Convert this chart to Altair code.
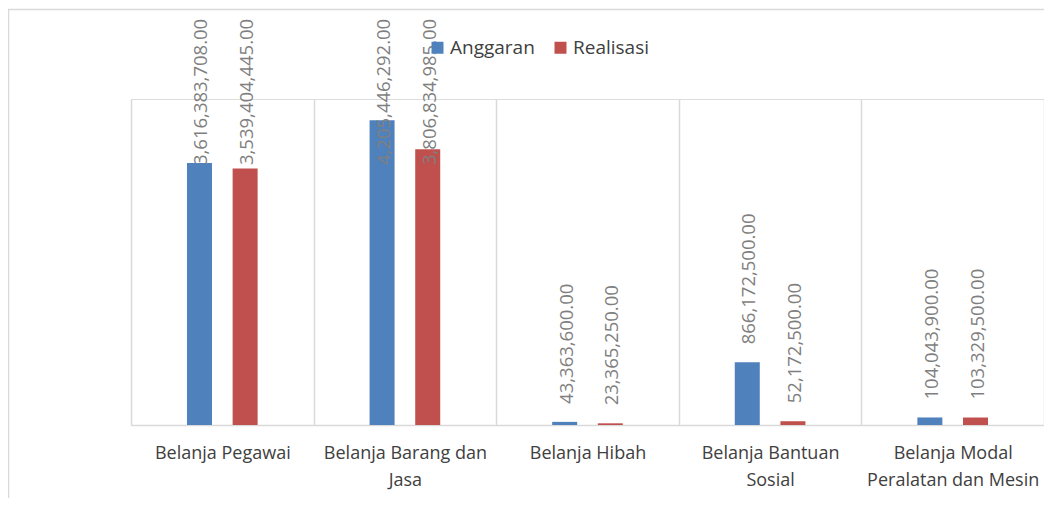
import altair as alt
import pandas as pd

categories = [
    "Belanja Pegawai",
    "Belanja Barang dan Jasa",
    "Belanja Hibah",
    "Belanja Bantuan Sosial",
    "Belanja Modal Peralatan dan Mesin",
]
category_lines = [
    ["Belanja Pegawai"],
    ["Belanja Barang dan", "Jasa"],
    ["Belanja Hibah"],
    ["Belanja Bantuan", "Sosial"],
    ["Belanja Modal", "Peralatan dan Mesin"],
]
series = ["Anggaran", "Realisasi"]
anggaran = [3616383708.00, 4205446292.00, 43363600.00, 866172500.00, 104043900.00]
realisasi = [3539404445.00, 3806834985.00, 23365250.00, 52172500.00, 103329500.00]
colors = ["#4F81BD", "#C0504D"]

rows = []
for c, a, r in zip(categories, anggaran, realisasi):
    rows.append({"category": c, "series": "Anggaran", "value": a})
    rows.append({"category": c, "series": "Realisasi", "value": r})
df = pd.DataFrame(rows)

# label expression for wrapped category names
expr = "datum.value"
for name, lines in zip(categories, category_lines):
    if len(lines) > 1:
        arr = "[" + ", ".join("'" + s + "'" for s in lines) + "]"
        expr = f"datum.value == '{name}' ? {arr} : ({expr})"

W, H = 913, 326
YMAX = 4.5e9

x_enc = alt.X(
    "category:N",
    sort=categories,
    scale=alt.Scale(paddingInner=0, paddingOuter=0),
    axis=alt.Axis(
        title=None,
        labelAngle=0,
        labelExpr=expr,
        labelFont="Open Sans",
        labelFontSize=18,
        labelColor="#404040",
        labelPadding=19,
        labelLineHeight=27,
        labelLimit=400,
        ticks=False,
        grid=True,
        gridColor="#D9D9D9",
        gridWidth=1.5,
        tickBand="extent",
        domainColor="#D9D9D9",
        domainWidth=1.5,
    ),
)
xoff_enc = alt.XOffset(
    "series:N",
    sort=series,
    scale=alt.Scale(paddingInner=0, paddingOuter=1),
)
y_scale = alt.Scale(domain=[0, YMAX])

base = alt.Chart(df)

bars = base.mark_bar(width=25).encode(
    x=x_enc,
    xOffset=xoff_enc,
    y=alt.Y("value:Q", scale=y_scale, axis=None),
    color=alt.Color(
        "series:N",
        sort=series,
        scale=alt.Scale(domain=series, range=colors),
        legend=alt.Legend(
            title=None,
            orient="none",
            direction="horizontal",
            legendX=297,
            legendY=-61,
            symbolType="square",
            symbolSize=144,
            symbolStrokeWidth=0,
            labelFont="Open Sans",
            labelFontSize=19,
            labelColor="#404040",
            labelOffset=3,
            columnPadding=16,
            padding=0,
        ),
    ),
)

labels = base.transform_calculate(
    label_y="min(datum.value + 248000000, 3589000000)"
).mark_text(
    angle=270,
    align="left",
    baseline="middle",
    font="Open Sans",
    fontSize=18.5,
    color="#7F7F7F",
    dy=2,
).encode(
    x=x_enc,
    xOffset=xoff_enc,
    y=alt.Y("label_y:Q", scale=y_scale, axis=None),
    text=alt.Text("value:Q", format=",.2f"),
)

frame = alt.Chart(pd.DataFrame({"f": [0]})).mark_rect(
    fill="transparent", stroke="#D9D9D9", strokeWidth=1.5
).encode(
    x=alt.value(-122.5),
    x2=alt.value(960),
    y=alt.value(-89.5),
    y2=alt.value(500),
)

chart = (
    alt.layer(frame, bars, labels)
    .properties(
        width=W,
        height=H,
        padding={"left": 123, "top": 91, "right": 0, "bottom": 73},
        autosize=alt.AutoSizeParams(type="none"),
    )
    .configure_view(stroke=None)
    .configure(background="white")
)

chart.save("out.html", embed_options={"renderer": "svg", "actions": False})
